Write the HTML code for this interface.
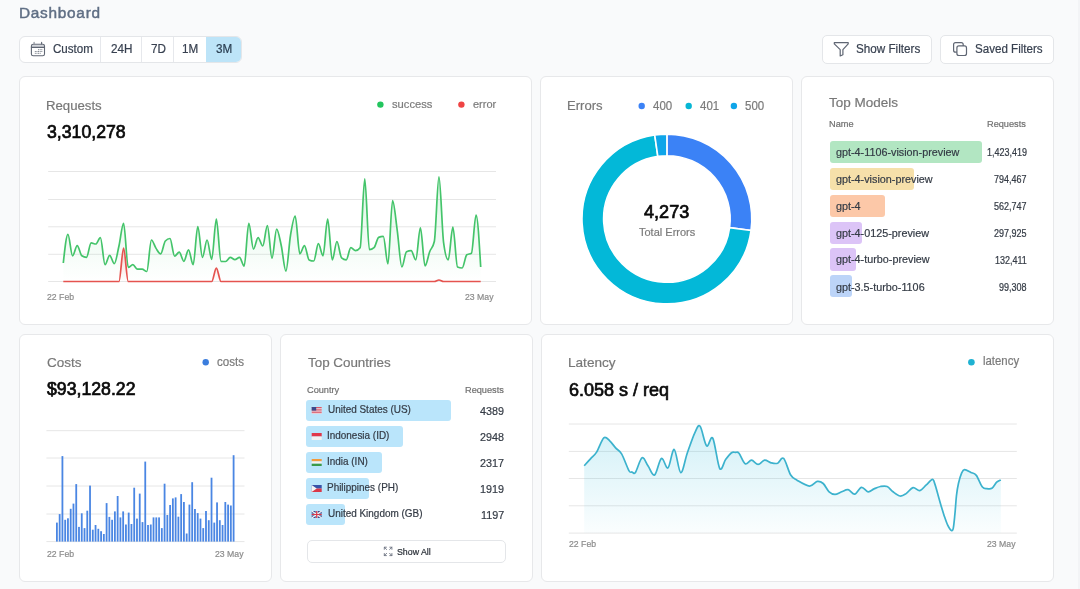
<!DOCTYPE html>
<html><head><meta charset="utf-8"><title>Dashboard</title>
<style>
html,body{margin:0;padding:0;}
body{width:1080px;height:589px;overflow:hidden;background:#f9fafb;position:relative;font-family:"Liberation Sans",sans-serif;}
.t{position:absolute;white-space:nowrap;will-change:transform;}
.card{position:absolute;background:#fff;border:1px solid #e7e8ea;border-radius:6px;box-sizing:border-box;}
.btn{position:absolute;background:#fff;border:1px solid #e4e6e9;border-radius:5px;box-sizing:border-box;}
svg{position:absolute;left:0;top:0;overflow:visible;}
</style></head><body>
<div style="position:absolute;left:1078px;top:0;width:2px;height:589px;background:#f3f4f6"></div>
<div class="btn" style="left:19.2px;top:35.5px;width:223px;height:27.3px;border-radius:6px;overflow:hidden"><div style="position:absolute;left:185.5px;top:0;width:40px;height:100%;background:#bde4f8"></div><div style="position:absolute;left:80.3px;top:0;width:1px;height:100%;background:#e6e8ec"></div><div style="position:absolute;left:120.7px;top:0;width:1px;height:100%;background:#e6e8ec"></div><div style="position:absolute;left:152.5px;top:0;width:1px;height:100%;background:#e6e8ec"></div></div>
<div class="btn" style="left:822.0px;top:34.9px;width:110px;height:28.7px"></div>
<div class="btn" style="left:940.3px;top:34.9px;width:113.6px;height:28.7px"></div>
<div class="card" style="left:18.84px;top:76.2px;width:512.76px;height:248.90000000000003px"></div>
<div class="card" style="left:540.1px;top:76.2px;width:252.89999999999998px;height:248.90000000000003px"></div>
<div class="card" style="left:801.1px;top:76.2px;width:252.69999999999993px;height:248.90000000000003px"></div>
<div class="card" style="left:18.84px;top:333.7px;width:253.11999999999998px;height:248.8px"></div>
<div class="card" style="left:279.9px;top:333.7px;width:252.80000000000007px;height:248.8px"></div>
<div class="card" style="left:540.9px;top:333.7px;width:512.9px;height:248.8px"></div>
<div style="position:absolute;left:830px;top:141.00px;width:151.70px;height:22.2px;background:#b2e6c2;border-radius:3px"></div>
<div style="position:absolute;left:830px;top:167.85px;width:83.75px;height:22.2px;background:#f6e0aa;border-radius:3px"></div>
<div style="position:absolute;left:830px;top:194.70px;width:54.50px;height:22.2px;background:#fcc8a8;border-radius:3px"></div>
<div style="position:absolute;left:830px;top:221.55px;width:32.10px;height:22.2px;background:#dcc4f7;border-radius:3px"></div>
<div style="position:absolute;left:830px;top:248.40px;width:25.70px;height:22.2px;background:#dcc4f7;border-radius:3px"></div>
<div style="position:absolute;left:830px;top:275.25px;width:22.40px;height:22.2px;background:#bcd4f8;border-radius:3px"></div>
<div style="position:absolute;left:305.8px;top:400.20px;width:145.00px;height:21.3px;background:#bae5fb;border-radius:3px"></div>
<div style="position:absolute;left:305.8px;top:426.20px;width:97.20px;height:21.3px;background:#bae5fb;border-radius:3px"></div>
<div style="position:absolute;left:305.8px;top:452.20px;width:76.40px;height:21.3px;background:#bae5fb;border-radius:3px"></div>
<div style="position:absolute;left:305.8px;top:478.20px;width:63.20px;height:21.3px;background:#bae5fb;border-radius:3px"></div>
<div style="position:absolute;left:305.8px;top:504.20px;width:39.30px;height:21.3px;background:#bae5fb;border-radius:3px"></div>
<div class="btn" style="left:306.6px;top:539.9px;width:199.1px;height:23.1px;border-radius:5px"></div>
<svg width="1080" height="589">
<rect x="31.4" y="45.0" width="13.1" height="2.2" fill="#d3d6db"/>
<g fill="none" stroke="#5f6673" stroke-width="1.1" stroke-linecap="round" stroke-linejoin="round">
<rect x="31.4" y="44.2" width="13.1" height="11.6" rx="1.8"/>
<line x1="31.4" y1="47.4" x2="44.5" y2="47.4"/>
<line x1="34.1" y1="42.4" x2="34.1" y2="44.0" stroke="#8a9099"/>
<line x1="41.6" y1="42.4" x2="41.6" y2="44.0"/>
</g><g fill="#7a808a"><rect x="38.06" y="49.20" width="1.0" height="1.0"/><rect x="39.68" y="49.20" width="1.0" height="1.0"/><rect x="41.30" y="49.20" width="1.0" height="1.0"/><rect x="34.82" y="51.00" width="1.0" height="1.0"/><rect x="36.44" y="51.00" width="1.0" height="1.0"/><rect x="38.06" y="51.00" width="1.0" height="1.0"/><rect x="39.68" y="51.00" width="1.0" height="1.0"/><rect x="41.30" y="51.00" width="1.0" height="1.0"/><rect x="34.82" y="52.80" width="1.0" height="1.0"/><rect x="36.44" y="52.80" width="1.0" height="1.0"/><rect x="38.06" y="52.80" width="1.0" height="1.0"/><rect x="39.68" y="52.80" width="1.0" height="1.0"/></g>
<path d="M834.3,42.6 L848.2,42.6 L848.2,43.9 L842.9,49.6 L842.9,54.8 L840.2,56 L840.2,49.6 L834.3,43.9 Z" fill="none" stroke="#5f6673" stroke-width="1.2" stroke-linejoin="round"/>
<rect x="953.6" y="42.6" width="9.6" height="9.6" rx="2" fill="none" stroke="#5f6673" stroke-width="1.2"/>
<rect x="956.9" y="45.9" width="9.6" height="9.6" rx="2" fill="#fff" stroke="#5f6673" stroke-width="1.2"/>
<defs><linearGradient id="gg" x1="0" y1="0" x2="0" y2="1"><stop offset="0" stop-color="#22c55e" stop-opacity="0.16"/><stop offset="1" stop-color="#22c55e" stop-opacity="0"/></linearGradient><linearGradient id="rg" x1="0" y1="0" x2="0" y2="1"><stop offset="0" stop-color="#ef4444" stop-opacity="0.22"/><stop offset="1" stop-color="#ef4444" stop-opacity="0"/></linearGradient><linearGradient id="lg" x1="0" y1="0" x2="0" y2="1"><stop offset="0" stop-color="#1cb5d8" stop-opacity="0.2"/><stop offset="1" stop-color="#1cb5d8" stop-opacity="0.02"/></linearGradient></defs>
<line x1="48.2" y1="171.5" x2="496" y2="171.5" stroke="#e6e6e6" stroke-width="1"/>
<line x1="48.2" y1="199.5" x2="496" y2="199.5" stroke="#e6e6e6" stroke-width="1"/>
<line x1="48.2" y1="226.8" x2="496" y2="226.8" stroke="#e6e6e6" stroke-width="1"/>
<line x1="48.2" y1="254.3" x2="496" y2="254.3" stroke="#e6e6e6" stroke-width="1"/>
<line x1="48.2" y1="281.5" x2="496" y2="281.5" stroke="#e6e6e6" stroke-width="1"/>
<path d="M63.30,263.00 C64.85,248.65 66.39,234.30 67.94,234.30 C69.48,234.30 71.03,255.80 72.58,255.80 C74.12,255.80 75.67,245.60 77.21,245.60 C78.76,245.60 80.31,254.80 81.85,255.80 C83.40,256.80 84.94,257.30 86.49,257.30 C88.03,257.30 89.58,242.90 91.13,242.90 C92.67,242.90 94.22,244.00 95.76,244.00 C97.31,244.00 98.86,237.60 100.40,237.60 C101.95,237.60 103.49,264.70 105.04,264.70 C106.59,264.70 108.13,255.30 109.68,255.30 C111.22,255.30 112.77,263.60 114.32,263.60 C115.86,263.60 117.41,252.72 118.95,246.00 C120.50,239.28 122.05,223.30 123.59,223.30 C125.14,223.30 126.68,267.40 128.23,267.40 C129.77,267.40 131.32,264.70 132.87,264.70 C134.41,264.70 135.96,269.10 137.50,269.10 C139.05,269.10 140.60,269.10 142.14,269.10 C143.69,269.10 145.23,271.50 146.78,271.50 C148.33,271.50 149.87,240.00 151.42,240.00 C152.96,240.00 154.51,246.08 156.06,248.40 C157.60,250.72 159.15,253.90 160.69,253.90 C162.24,253.90 163.79,242.67 165.33,241.00 C166.88,239.33 168.42,238.50 169.97,238.50 C171.51,238.50 173.06,256.10 174.61,256.10 C176.15,256.10 177.70,252.20 179.24,252.20 C180.79,252.20 182.34,261.30 183.88,261.30 C185.43,261.30 186.97,249.80 188.52,249.80 C190.07,249.80 191.61,264.70 193.16,264.70 C194.70,264.70 196.25,226.70 197.80,226.70 C199.34,226.70 200.89,257.30 202.43,257.30 C203.98,257.30 205.53,240.00 207.07,240.00 C208.62,240.00 210.16,259.30 211.71,259.30 C213.25,259.30 214.80,219.00 216.35,219.00 C217.89,219.00 219.44,261.17 220.98,261.30 C222.53,261.43 224.08,261.50 225.62,261.50 C227.17,261.50 228.71,257.30 230.26,257.30 C231.81,257.30 233.35,259.60 234.90,259.60 C236.44,259.60 237.99,257.30 239.54,257.30 C241.08,257.30 242.63,266.10 244.17,266.10 C245.72,266.10 247.27,223.30 248.81,223.30 C250.36,223.30 251.90,249.10 253.45,249.10 C254.99,249.10 256.54,237.60 258.09,237.60 C259.63,237.60 261.18,246.00 262.72,246.00 C264.27,246.00 265.82,225.60 267.36,225.60 C268.91,225.60 270.45,258.20 272.00,258.20 C273.55,258.20 275.09,229.20 276.64,229.20 C278.18,229.20 279.73,238.72 281.28,245.70 C282.82,252.68 284.37,271.10 285.91,271.10 C287.46,271.10 289.01,244.18 290.55,235.00 C292.10,225.82 293.64,216.00 295.19,216.00 C296.73,216.00 298.28,253.80 299.83,253.80 C301.37,253.80 302.92,245.60 304.46,245.60 C306.01,245.60 307.56,259.17 309.10,259.90 C310.65,260.63 312.19,261.00 313.74,261.00 C315.29,261.00 316.83,243.60 318.38,243.60 C319.92,243.60 321.47,255.80 323.02,255.80 C324.56,255.80 326.11,219.00 327.65,219.00 C329.20,219.00 330.75,259.90 332.29,259.90 C333.84,259.90 335.38,241.50 336.93,241.50 C338.47,241.50 340.02,256.57 341.57,257.90 C343.11,259.23 344.66,259.90 346.20,259.90 C347.75,259.90 349.30,247.70 350.84,247.70 C352.39,247.70 353.93,250.70 355.48,250.70 C357.03,250.70 358.57,249.70 360.12,247.70 C361.66,245.70 363.21,178.90 364.76,178.90 C366.30,178.90 367.85,249.70 369.39,249.70 C370.94,249.70 372.49,249.03 374.03,247.70 C375.58,246.37 377.12,238.07 378.67,237.40 C380.21,236.73 381.76,236.40 383.31,236.40 C384.85,236.40 386.40,264.00 387.94,264.00 C389.49,264.00 391.04,200.70 392.58,200.70 C394.13,200.70 395.67,219.25 397.22,230.30 C398.77,241.35 400.31,267.00 401.86,267.00 C403.40,267.00 404.95,252.37 406.50,251.70 C408.04,251.03 409.59,250.70 411.13,250.70 C412.68,250.70 414.23,259.90 415.77,259.90 C417.32,259.90 418.86,227.90 420.41,227.90 C421.95,227.90 423.50,266.00 425.05,266.00 C426.59,266.00 428.14,255.78 429.68,251.70 C431.23,247.62 432.78,248.30 434.32,241.50 C435.87,234.70 437.41,176.80 438.96,176.80 C440.51,176.80 442.05,231.07 443.60,242.60 C445.14,254.13 446.69,259.90 448.24,259.90 C449.78,259.90 451.33,227.20 452.87,227.20 C454.42,227.20 455.97,266.33 457.51,267.00 C459.06,267.67 460.60,268.00 462.15,268.00 C463.69,268.00 465.24,255.87 466.79,254.80 C468.33,253.73 469.88,254.27 471.42,253.20 C472.97,252.13 474.52,215.00 476.06,215.00 C477.61,215.00 479.15,241.00 480.70,267.00 L480.7,281.5 L63.3,281.5 Z" fill="url(#gg)"/>
<path d="M63.30,263.00 C64.85,248.65 66.39,234.30 67.94,234.30 C69.48,234.30 71.03,255.80 72.58,255.80 C74.12,255.80 75.67,245.60 77.21,245.60 C78.76,245.60 80.31,254.80 81.85,255.80 C83.40,256.80 84.94,257.30 86.49,257.30 C88.03,257.30 89.58,242.90 91.13,242.90 C92.67,242.90 94.22,244.00 95.76,244.00 C97.31,244.00 98.86,237.60 100.40,237.60 C101.95,237.60 103.49,264.70 105.04,264.70 C106.59,264.70 108.13,255.30 109.68,255.30 C111.22,255.30 112.77,263.60 114.32,263.60 C115.86,263.60 117.41,252.72 118.95,246.00 C120.50,239.28 122.05,223.30 123.59,223.30 C125.14,223.30 126.68,267.40 128.23,267.40 C129.77,267.40 131.32,264.70 132.87,264.70 C134.41,264.70 135.96,269.10 137.50,269.10 C139.05,269.10 140.60,269.10 142.14,269.10 C143.69,269.10 145.23,271.50 146.78,271.50 C148.33,271.50 149.87,240.00 151.42,240.00 C152.96,240.00 154.51,246.08 156.06,248.40 C157.60,250.72 159.15,253.90 160.69,253.90 C162.24,253.90 163.79,242.67 165.33,241.00 C166.88,239.33 168.42,238.50 169.97,238.50 C171.51,238.50 173.06,256.10 174.61,256.10 C176.15,256.10 177.70,252.20 179.24,252.20 C180.79,252.20 182.34,261.30 183.88,261.30 C185.43,261.30 186.97,249.80 188.52,249.80 C190.07,249.80 191.61,264.70 193.16,264.70 C194.70,264.70 196.25,226.70 197.80,226.70 C199.34,226.70 200.89,257.30 202.43,257.30 C203.98,257.30 205.53,240.00 207.07,240.00 C208.62,240.00 210.16,259.30 211.71,259.30 C213.25,259.30 214.80,219.00 216.35,219.00 C217.89,219.00 219.44,261.17 220.98,261.30 C222.53,261.43 224.08,261.50 225.62,261.50 C227.17,261.50 228.71,257.30 230.26,257.30 C231.81,257.30 233.35,259.60 234.90,259.60 C236.44,259.60 237.99,257.30 239.54,257.30 C241.08,257.30 242.63,266.10 244.17,266.10 C245.72,266.10 247.27,223.30 248.81,223.30 C250.36,223.30 251.90,249.10 253.45,249.10 C254.99,249.10 256.54,237.60 258.09,237.60 C259.63,237.60 261.18,246.00 262.72,246.00 C264.27,246.00 265.82,225.60 267.36,225.60 C268.91,225.60 270.45,258.20 272.00,258.20 C273.55,258.20 275.09,229.20 276.64,229.20 C278.18,229.20 279.73,238.72 281.28,245.70 C282.82,252.68 284.37,271.10 285.91,271.10 C287.46,271.10 289.01,244.18 290.55,235.00 C292.10,225.82 293.64,216.00 295.19,216.00 C296.73,216.00 298.28,253.80 299.83,253.80 C301.37,253.80 302.92,245.60 304.46,245.60 C306.01,245.60 307.56,259.17 309.10,259.90 C310.65,260.63 312.19,261.00 313.74,261.00 C315.29,261.00 316.83,243.60 318.38,243.60 C319.92,243.60 321.47,255.80 323.02,255.80 C324.56,255.80 326.11,219.00 327.65,219.00 C329.20,219.00 330.75,259.90 332.29,259.90 C333.84,259.90 335.38,241.50 336.93,241.50 C338.47,241.50 340.02,256.57 341.57,257.90 C343.11,259.23 344.66,259.90 346.20,259.90 C347.75,259.90 349.30,247.70 350.84,247.70 C352.39,247.70 353.93,250.70 355.48,250.70 C357.03,250.70 358.57,249.70 360.12,247.70 C361.66,245.70 363.21,178.90 364.76,178.90 C366.30,178.90 367.85,249.70 369.39,249.70 C370.94,249.70 372.49,249.03 374.03,247.70 C375.58,246.37 377.12,238.07 378.67,237.40 C380.21,236.73 381.76,236.40 383.31,236.40 C384.85,236.40 386.40,264.00 387.94,264.00 C389.49,264.00 391.04,200.70 392.58,200.70 C394.13,200.70 395.67,219.25 397.22,230.30 C398.77,241.35 400.31,267.00 401.86,267.00 C403.40,267.00 404.95,252.37 406.50,251.70 C408.04,251.03 409.59,250.70 411.13,250.70 C412.68,250.70 414.23,259.90 415.77,259.90 C417.32,259.90 418.86,227.90 420.41,227.90 C421.95,227.90 423.50,266.00 425.05,266.00 C426.59,266.00 428.14,255.78 429.68,251.70 C431.23,247.62 432.78,248.30 434.32,241.50 C435.87,234.70 437.41,176.80 438.96,176.80 C440.51,176.80 442.05,231.07 443.60,242.60 C445.14,254.13 446.69,259.90 448.24,259.90 C449.78,259.90 451.33,227.20 452.87,227.20 C454.42,227.20 455.97,266.33 457.51,267.00 C459.06,267.67 460.60,268.00 462.15,268.00 C463.69,268.00 465.24,255.87 466.79,254.80 C468.33,253.73 469.88,254.27 471.42,253.20 C472.97,252.13 474.52,215.00 476.06,215.00 C477.61,215.00 479.15,241.00 480.70,267.00" fill="none" stroke="#44c46a" stroke-width="1.7"/>
<path d="M63.30,281.50 C64.85,281.50 66.39,281.50 67.94,281.50 C69.48,281.50 71.03,281.50 72.58,281.50 C74.12,281.50 75.67,281.50 77.21,281.50 C78.76,281.50 80.31,281.50 81.85,281.50 C83.40,281.50 84.94,281.50 86.49,281.50 C88.03,281.50 89.58,281.50 91.13,281.50 C92.67,281.50 94.22,281.50 95.76,281.50 C97.31,281.50 98.86,281.50 100.40,281.50 C101.95,281.50 103.49,281.50 105.04,281.50 C106.59,281.50 108.13,281.50 109.68,281.50 C111.22,281.50 112.77,281.50 114.32,281.50 C115.86,281.50 117.41,281.50 118.95,281.50 C120.50,281.50 122.05,248.20 123.59,248.20 C125.14,248.20 126.68,281.50 128.23,281.50 C129.77,281.50 131.32,281.50 132.87,281.50 C134.41,281.50 135.96,281.50 137.50,281.50 C139.05,281.50 140.60,281.50 142.14,281.50 C143.69,281.50 145.23,281.50 146.78,281.50 C148.33,281.50 149.87,281.50 151.42,281.50 C152.96,281.50 154.51,281.50 156.06,281.50 C157.60,281.50 159.15,281.50 160.69,281.50 C162.24,281.50 163.79,281.50 165.33,281.50 C166.88,281.50 168.42,281.50 169.97,281.50 C171.51,281.50 173.06,281.50 174.61,281.50 C176.15,281.50 177.70,281.50 179.24,281.50 C180.79,281.50 182.34,281.50 183.88,281.50 C185.43,281.50 186.97,281.50 188.52,281.50 C190.07,281.50 191.61,281.50 193.16,281.50 C194.70,281.50 196.25,281.50 197.80,281.50 C199.34,281.50 200.89,281.50 202.43,281.50 C203.98,281.50 205.53,281.50 207.07,281.50 C208.62,281.50 210.16,281.50 211.71,281.50 C213.25,281.50 214.80,268.10 216.35,268.10 C217.89,268.10 219.44,281.50 220.98,281.50 C222.53,281.50 224.08,281.50 225.62,281.50 C227.17,281.50 228.71,281.50 230.26,281.50 C231.81,281.50 233.35,281.50 234.90,281.50 C236.44,281.50 237.99,281.50 239.54,281.50 C241.08,281.50 242.63,281.50 244.17,281.50 C245.72,281.50 247.27,281.50 248.81,281.50 C250.36,281.50 251.90,281.50 253.45,281.50 C254.99,281.50 256.54,281.50 258.09,281.50 C259.63,281.50 261.18,281.50 262.72,281.50 C264.27,281.50 265.82,281.50 267.36,281.50 C268.91,281.50 270.45,281.50 272.00,281.50 C273.55,281.50 275.09,281.50 276.64,281.50 C278.18,281.50 279.73,281.50 281.28,281.50 C282.82,281.50 284.37,281.50 285.91,281.50 C287.46,281.50 289.01,281.50 290.55,281.50 C292.10,281.50 293.64,281.50 295.19,281.50 C296.73,281.50 298.28,281.50 299.83,281.50 C301.37,281.50 302.92,281.50 304.46,281.50 C306.01,281.50 307.56,281.50 309.10,281.50 C310.65,281.50 312.19,281.50 313.74,281.50 C315.29,281.50 316.83,281.50 318.38,281.50 C319.92,281.50 321.47,281.50 323.02,281.50 C324.56,281.50 326.11,281.50 327.65,281.50 C329.20,281.50 330.75,281.50 332.29,281.50 C333.84,281.50 335.38,281.50 336.93,281.50 C338.47,281.50 340.02,281.50 341.57,281.50 C343.11,281.50 344.66,281.50 346.20,281.50 C347.75,281.50 349.30,281.50 350.84,281.50 C352.39,281.50 353.93,281.50 355.48,281.50 C357.03,281.50 358.57,281.50 360.12,281.50 C361.66,281.50 363.21,281.50 364.76,281.50 C366.30,281.50 367.85,281.50 369.39,281.50 C370.94,281.50 372.49,281.50 374.03,281.50 C375.58,281.50 377.12,281.50 378.67,281.50 C380.21,281.50 381.76,281.50 383.31,281.50 C384.85,281.50 386.40,281.50 387.94,281.50 C389.49,281.50 391.04,281.50 392.58,281.50 C394.13,281.50 395.67,281.50 397.22,281.50 C398.77,281.50 400.31,281.50 401.86,281.50 C403.40,281.50 404.95,281.50 406.50,281.50 C408.04,281.50 409.59,281.50 411.13,281.50 C412.68,281.50 414.23,281.50 415.77,281.50 C417.32,281.50 418.86,281.50 420.41,281.50 C421.95,281.50 423.50,281.50 425.05,281.50 C426.59,281.50 428.14,281.50 429.68,281.50 C431.23,281.50 432.78,281.50 434.32,281.50 C435.87,281.50 437.41,280.00 438.96,280.00 C440.51,280.00 442.05,281.50 443.60,281.50 C445.14,281.50 446.69,281.50 448.24,281.50 C449.78,281.50 451.33,281.50 452.87,281.50 C454.42,281.50 455.97,281.50 457.51,281.50 C459.06,281.50 460.60,281.50 462.15,281.50 C463.69,281.50 465.24,281.50 466.79,281.50 C468.33,281.50 469.88,281.50 471.42,281.50 C472.97,281.50 474.52,281.50 476.06,281.50 C477.61,281.50 479.15,281.50 480.70,281.50 L480.7,281.5 L63.3,281.5 Z" fill="url(#rg)"/>
<path d="M63.30,281.50 C64.85,281.50 66.39,281.50 67.94,281.50 C69.48,281.50 71.03,281.50 72.58,281.50 C74.12,281.50 75.67,281.50 77.21,281.50 C78.76,281.50 80.31,281.50 81.85,281.50 C83.40,281.50 84.94,281.50 86.49,281.50 C88.03,281.50 89.58,281.50 91.13,281.50 C92.67,281.50 94.22,281.50 95.76,281.50 C97.31,281.50 98.86,281.50 100.40,281.50 C101.95,281.50 103.49,281.50 105.04,281.50 C106.59,281.50 108.13,281.50 109.68,281.50 C111.22,281.50 112.77,281.50 114.32,281.50 C115.86,281.50 117.41,281.50 118.95,281.50 C120.50,281.50 122.05,248.20 123.59,248.20 C125.14,248.20 126.68,281.50 128.23,281.50 C129.77,281.50 131.32,281.50 132.87,281.50 C134.41,281.50 135.96,281.50 137.50,281.50 C139.05,281.50 140.60,281.50 142.14,281.50 C143.69,281.50 145.23,281.50 146.78,281.50 C148.33,281.50 149.87,281.50 151.42,281.50 C152.96,281.50 154.51,281.50 156.06,281.50 C157.60,281.50 159.15,281.50 160.69,281.50 C162.24,281.50 163.79,281.50 165.33,281.50 C166.88,281.50 168.42,281.50 169.97,281.50 C171.51,281.50 173.06,281.50 174.61,281.50 C176.15,281.50 177.70,281.50 179.24,281.50 C180.79,281.50 182.34,281.50 183.88,281.50 C185.43,281.50 186.97,281.50 188.52,281.50 C190.07,281.50 191.61,281.50 193.16,281.50 C194.70,281.50 196.25,281.50 197.80,281.50 C199.34,281.50 200.89,281.50 202.43,281.50 C203.98,281.50 205.53,281.50 207.07,281.50 C208.62,281.50 210.16,281.50 211.71,281.50 C213.25,281.50 214.80,268.10 216.35,268.10 C217.89,268.10 219.44,281.50 220.98,281.50 C222.53,281.50 224.08,281.50 225.62,281.50 C227.17,281.50 228.71,281.50 230.26,281.50 C231.81,281.50 233.35,281.50 234.90,281.50 C236.44,281.50 237.99,281.50 239.54,281.50 C241.08,281.50 242.63,281.50 244.17,281.50 C245.72,281.50 247.27,281.50 248.81,281.50 C250.36,281.50 251.90,281.50 253.45,281.50 C254.99,281.50 256.54,281.50 258.09,281.50 C259.63,281.50 261.18,281.50 262.72,281.50 C264.27,281.50 265.82,281.50 267.36,281.50 C268.91,281.50 270.45,281.50 272.00,281.50 C273.55,281.50 275.09,281.50 276.64,281.50 C278.18,281.50 279.73,281.50 281.28,281.50 C282.82,281.50 284.37,281.50 285.91,281.50 C287.46,281.50 289.01,281.50 290.55,281.50 C292.10,281.50 293.64,281.50 295.19,281.50 C296.73,281.50 298.28,281.50 299.83,281.50 C301.37,281.50 302.92,281.50 304.46,281.50 C306.01,281.50 307.56,281.50 309.10,281.50 C310.65,281.50 312.19,281.50 313.74,281.50 C315.29,281.50 316.83,281.50 318.38,281.50 C319.92,281.50 321.47,281.50 323.02,281.50 C324.56,281.50 326.11,281.50 327.65,281.50 C329.20,281.50 330.75,281.50 332.29,281.50 C333.84,281.50 335.38,281.50 336.93,281.50 C338.47,281.50 340.02,281.50 341.57,281.50 C343.11,281.50 344.66,281.50 346.20,281.50 C347.75,281.50 349.30,281.50 350.84,281.50 C352.39,281.50 353.93,281.50 355.48,281.50 C357.03,281.50 358.57,281.50 360.12,281.50 C361.66,281.50 363.21,281.50 364.76,281.50 C366.30,281.50 367.85,281.50 369.39,281.50 C370.94,281.50 372.49,281.50 374.03,281.50 C375.58,281.50 377.12,281.50 378.67,281.50 C380.21,281.50 381.76,281.50 383.31,281.50 C384.85,281.50 386.40,281.50 387.94,281.50 C389.49,281.50 391.04,281.50 392.58,281.50 C394.13,281.50 395.67,281.50 397.22,281.50 C398.77,281.50 400.31,281.50 401.86,281.50 C403.40,281.50 404.95,281.50 406.50,281.50 C408.04,281.50 409.59,281.50 411.13,281.50 C412.68,281.50 414.23,281.50 415.77,281.50 C417.32,281.50 418.86,281.50 420.41,281.50 C421.95,281.50 423.50,281.50 425.05,281.50 C426.59,281.50 428.14,281.50 429.68,281.50 C431.23,281.50 432.78,281.50 434.32,281.50 C435.87,281.50 437.41,280.00 438.96,280.00 C440.51,280.00 442.05,281.50 443.60,281.50 C445.14,281.50 446.69,281.50 448.24,281.50 C449.78,281.50 451.33,281.50 452.87,281.50 C454.42,281.50 455.97,281.50 457.51,281.50 C459.06,281.50 460.60,281.50 462.15,281.50 C463.69,281.50 465.24,281.50 466.79,281.50 C468.33,281.50 469.88,281.50 471.42,281.50 C472.97,281.50 474.52,281.50 476.06,281.50 C477.61,281.50 479.15,281.50 480.70,281.50" fill="none" stroke="#e5534f" stroke-width="1.7"/>
<circle cx="380.4" cy="104.6" r="3.2" fill="#22c55e"/>
<circle cx="461.4" cy="104.6" r="3.2" fill="#ef4444"/>
<g stroke="#fff" stroke-width="1.6" stroke-linejoin="miter"><path d="M666.90,134.10 A84.9,84.9 0 0 1 751.01,230.52 L729.61,227.59 A63.3,63.3 0 0 0 666.90,155.70 Z" fill="#3b82f6"/>
<path d="M751.01,230.52 A84.9,84.9 0 1 1 654.72,134.98 L657.82,156.36 A63.3,63.3 0 1 0 729.61,227.59 Z" fill="#03b8d8"/>
<path d="M654.72,134.98 A84.9,84.9 0 0 1 666.90,134.10 L666.90,155.70 A63.3,63.3 0 0 0 657.82,156.36 Z" fill="#0ea5e9"/></g>
<circle cx="641.7" cy="106" r="3.2" fill="#3b82f6"/>
<circle cx="688.7" cy="106" r="3.2" fill="#06b6d4"/>
<circle cx="733.9" cy="106" r="3.2" fill="#0ea5e9"/>
<circle cx="205.7" cy="362.3" r="3.2" fill="#3b7ddd"/>
<line x1="46.4" y1="430.7" x2="244.5" y2="430.7" stroke="#e6e6e6" stroke-width="1"/>
<line x1="46.4" y1="458.0" x2="244.5" y2="458.0" stroke="#e6e6e6" stroke-width="1"/>
<line x1="46.4" y1="486.0" x2="244.5" y2="486.0" stroke="#e6e6e6" stroke-width="1"/>
<line x1="46.4" y1="514.0" x2="244.5" y2="514.0" stroke="#e6e6e6" stroke-width="1"/>
<line x1="46.4" y1="541.6" x2="244.5" y2="541.6" stroke="#e6e6e6" stroke-width="1"/>
<g fill="#4a86e3"><rect x="56.00" y="522.60" width="1.8" height="19.00"/><rect x="58.76" y="514.10" width="1.8" height="27.50"/><rect x="61.52" y="456.10" width="1.8" height="85.50"/><rect x="64.28" y="519.80" width="1.8" height="21.80"/><rect x="67.04" y="518.30" width="1.8" height="23.30"/><rect x="69.80" y="508.80" width="1.8" height="32.80"/><rect x="72.57" y="503.60" width="1.8" height="38.00"/><rect x="75.33" y="484.10" width="1.8" height="57.50"/><rect x="78.09" y="526.90" width="1.8" height="14.70"/><rect x="80.85" y="513.30" width="1.8" height="28.30"/><rect x="83.61" y="528.10" width="1.8" height="13.50"/><rect x="86.37" y="510.70" width="1.8" height="30.90"/><rect x="89.13" y="485.60" width="1.8" height="56.00"/><rect x="91.89" y="529.70" width="1.8" height="11.90"/><rect x="94.65" y="525.00" width="1.8" height="16.60"/><rect x="97.41" y="528.80" width="1.8" height="12.80"/><rect x="100.18" y="531.20" width="1.8" height="10.40"/><rect x="102.94" y="534.00" width="1.8" height="7.60"/><rect x="105.70" y="503.10" width="1.8" height="38.50"/><rect x="108.46" y="516.90" width="1.8" height="24.70"/><rect x="111.22" y="519.80" width="1.8" height="21.80"/><rect x="113.98" y="511.40" width="1.8" height="30.20"/><rect x="116.74" y="496.00" width="1.8" height="45.60"/><rect x="119.50" y="517.40" width="1.8" height="24.20"/><rect x="122.26" y="511.40" width="1.8" height="30.20"/><rect x="125.03" y="524.50" width="1.8" height="17.10"/><rect x="127.79" y="512.60" width="1.8" height="29.00"/><rect x="130.55" y="524.00" width="1.8" height="17.60"/><rect x="133.31" y="487.70" width="1.8" height="53.90"/><rect x="136.07" y="518.60" width="1.8" height="23.00"/><rect x="138.83" y="493.60" width="1.8" height="48.00"/><rect x="141.59" y="522.10" width="1.8" height="19.50"/><rect x="144.35" y="461.60" width="1.8" height="80.00"/><rect x="147.11" y="525.00" width="1.8" height="16.60"/><rect x="149.87" y="524.50" width="1.8" height="17.10"/><rect x="152.63" y="517.40" width="1.8" height="24.20"/><rect x="155.40" y="517.40" width="1.8" height="24.20"/><rect x="158.16" y="517.40" width="1.8" height="24.20"/><rect x="160.92" y="528.10" width="1.8" height="13.50"/><rect x="163.68" y="483.70" width="1.8" height="57.90"/><rect x="166.44" y="515.00" width="1.8" height="26.60"/><rect x="169.20" y="505.00" width="1.8" height="36.60"/><rect x="171.96" y="498.40" width="1.8" height="43.20"/><rect x="174.72" y="497.40" width="1.8" height="44.20"/><rect x="177.48" y="516.70" width="1.8" height="24.90"/><rect x="180.25" y="494.10" width="1.8" height="47.50"/><rect x="183.01" y="502.00" width="1.8" height="39.60"/><rect x="185.77" y="533.50" width="1.8" height="8.10"/><rect x="188.53" y="504.60" width="1.8" height="37.00"/><rect x="191.29" y="482.20" width="1.8" height="59.40"/><rect x="194.05" y="509.00" width="1.8" height="32.60"/><rect x="196.81" y="513.10" width="1.8" height="28.50"/><rect x="199.57" y="518.60" width="1.8" height="23.00"/><rect x="202.33" y="528.10" width="1.8" height="13.50"/><rect x="205.09" y="511.00" width="1.8" height="30.60"/><rect x="207.86" y="520.20" width="1.8" height="21.40"/><rect x="210.62" y="477.70" width="1.8" height="63.90"/><rect x="213.38" y="522.60" width="1.8" height="19.00"/><rect x="216.14" y="502.40" width="1.8" height="39.20"/><rect x="218.90" y="520.20" width="1.8" height="21.40"/><rect x="221.66" y="525.00" width="1.8" height="16.60"/><rect x="224.42" y="502.00" width="1.8" height="39.60"/><rect x="227.18" y="504.60" width="1.8" height="37.00"/><rect x="229.94" y="505.50" width="1.8" height="36.10"/><rect x="232.70" y="455.20" width="1.8" height="86.40"/></g>
<rect x="311.7" y="407.0" width="10" height="7" fill="#e8e8ee"/><rect x="311.7" y="407.00" width="10" height="0.9" fill="#d9485a"/><rect x="311.7" y="408.75" width="10" height="0.9" fill="#d9485a"/><rect x="311.7" y="410.50" width="10" height="0.9" fill="#d9485a"/><rect x="311.7" y="412.25" width="10" height="0.9" fill="#d9485a"/><rect x="311.7" y="407.0" width="4.5" height="3.6" fill="#3b4a8c"/><rect x="311.7" y="433.0" width="10" height="3.5" fill="#e0384a"/><rect x="311.7" y="436.5" width="10" height="3.5" fill="#f2f2f2"/><rect x="311.7" y="459.0" width="10" height="2.4" fill="#f29a3c"/><rect x="311.7" y="461.4" width="10" height="2.3" fill="#f4f4f4"/><rect x="311.7" y="463.7" width="10" height="2.3" fill="#3a9a4a"/><rect x="311.7" y="485.0" width="10" height="3.5" fill="#3852a8"/><rect x="311.7" y="488.5" width="10" height="3.5" fill="#d9384a"/><path d="M311.7,485.0 L316.7,488.5 L311.7,492.0 Z" fill="#f4f4f4"/><rect x="311.7" y="511.0" width="10" height="7" fill="#3b4a8c"/><path d="M311.7,511.0 L321.7,518.0 M321.7,511.0 L311.7,518.0" stroke="#f4f4f4" stroke-width="1.4"/><rect x="315.7" y="511.0" width="2" height="7" fill="#f4f4f4"/><rect x="311.7" y="513.7" width="10" height="1.6" fill="#f4f4f4"/><rect x="316.09999999999997" y="511.0" width="1.2" height="7" fill="#d9384a"/><rect x="311.7" y="514.0" width="10" height="1" fill="#d9384a"/>
<g fill="none" stroke="#6b7280" stroke-width="0.9" stroke-linecap="round" stroke-linejoin="round">
<path d="M384.3,549.3 L384.3,547.2 L386.4,547.2 M384.3,547.2 L386.6,549.5"/>
<path d="M391.9,549.3 L391.9,547.2 L389.8,547.2 M391.9,547.2 L389.6,549.5"/>
<path d="M384.3,553.5 L384.3,555.6 L386.4,555.6 M384.3,555.6 L386.6,553.3"/>
<path d="M391.9,553.5 L391.9,555.6 L389.8,555.6 M391.9,555.6 L389.6,553.3"/>
</g>
<circle cx="971.4" cy="362.25" r="3.3" fill="#1fb2d2"/>
<line x1="568.8" y1="424.0" x2="1016.8" y2="424.0" stroke="#e6e6e6" stroke-width="1"/>
<line x1="568.8" y1="451.4" x2="1016.8" y2="451.4" stroke="#e6e6e6" stroke-width="1"/>
<line x1="568.8" y1="478.5" x2="1016.8" y2="478.5" stroke="#e6e6e6" stroke-width="1"/>
<line x1="568.8" y1="505.8" x2="1016.8" y2="505.8" stroke="#e6e6e6" stroke-width="1"/>
<line x1="568.8" y1="533.1" x2="1016.8" y2="533.1" stroke="#e6e6e6" stroke-width="1"/>
<path d="M584.20,465.70 C585.28,464.52 588.63,460.87 590.70,458.60 C592.77,456.33 594.42,455.57 596.60,452.10 C598.78,448.63 601.62,439.68 603.80,437.80 C605.98,435.92 607.73,439.12 609.70,440.80 C611.67,442.48 613.62,445.72 615.60,447.90 C617.58,450.08 619.38,450.12 621.60,453.90 C623.82,457.68 627.17,467.58 628.90,470.60 C630.63,473.62 630.92,471.70 632.00,472.00 C633.08,472.30 633.72,474.77 635.40,472.40 C637.08,470.03 639.98,458.85 642.10,457.80 C644.22,456.75 646.02,463.23 648.10,466.10 C650.18,468.97 652.38,476.28 654.60,475.00 C656.82,473.72 659.17,459.58 661.40,458.40 C663.63,457.22 665.87,469.38 668.00,467.90 C670.13,466.42 672.08,448.72 674.20,449.50 C676.32,450.28 678.52,472.02 680.70,472.60 C682.88,473.18 684.95,459.63 687.30,453.00 C689.65,446.37 692.67,437.25 694.80,432.80 C696.93,428.35 698.13,424.12 700.10,426.30 C702.07,428.48 704.48,443.92 706.60,445.90 C708.72,447.88 710.62,434.43 712.80,438.20 C714.98,441.97 717.57,464.93 719.70,468.50 C721.83,472.07 723.63,462.22 725.60,459.60 C727.57,456.98 729.88,454.00 731.50,452.80 C733.12,451.60 734.05,452.33 735.30,452.40 C736.55,452.47 737.35,451.32 739.00,453.20 C740.65,455.08 743.12,462.53 745.20,463.70 C747.28,464.87 749.35,460.08 751.50,460.20 C753.65,460.32 755.92,464.40 758.10,464.40 C760.28,464.40 762.43,460.47 764.60,460.20 C766.77,459.93 768.92,462.30 771.10,462.80 C773.28,463.30 775.62,463.93 777.70,463.20 C779.78,462.47 781.43,456.43 783.60,458.40 C785.77,460.37 788.42,471.33 790.70,475.00 C792.98,478.67 794.17,478.55 797.30,480.40 C800.43,482.25 806.18,485.93 809.50,486.10 C812.82,486.27 814.92,481.83 817.20,481.40 C819.48,480.97 821.22,481.77 823.20,483.50 C825.18,485.23 827.13,489.98 829.10,491.80 C831.07,493.62 832.92,494.40 835.00,494.40 C837.08,494.40 839.42,492.58 841.60,491.80 C843.78,491.02 845.92,489.30 848.10,489.70 C850.28,490.10 852.47,494.60 854.70,494.20 C856.93,493.80 859.27,487.70 861.50,487.30 C863.73,486.90 866.02,491.53 868.10,491.80 C870.18,492.07 871.93,489.78 874.00,488.90 C876.07,488.02 878.32,486.90 880.50,486.50 C882.68,486.10 885.02,485.62 887.10,486.50 C889.18,487.38 890.83,490.22 893.00,491.80 C895.17,493.38 897.92,495.70 900.10,496.00 C902.28,496.30 903.95,495.00 906.10,493.60 C908.25,492.20 910.72,488.10 913.00,487.60 C915.28,487.10 917.58,491.05 919.80,490.60 C922.02,490.15 924.20,486.77 926.30,484.90 C928.40,483.03 930.95,479.48 932.40,479.40 C933.85,479.32 934.02,481.63 935.00,484.40 C935.98,487.17 937.30,492.50 938.30,496.00 C939.30,499.50 939.98,502.00 941.00,505.40 C942.02,508.80 943.28,513.10 944.40,516.40 C945.52,519.70 946.60,522.90 947.70,525.20 C948.80,527.50 950.08,529.63 951.00,530.20 C951.92,530.77 952.55,531.27 953.20,528.60 C953.85,525.93 954.35,519.73 954.90,514.20 C955.45,508.67 955.90,500.55 956.50,495.40 C957.10,490.25 957.67,486.98 958.50,483.30 C959.33,479.62 960.50,475.58 961.50,473.30 C962.50,471.02 962.93,469.75 964.50,469.60 C966.07,469.45 968.93,471.43 970.90,472.40 C972.87,473.37 974.38,472.97 976.30,475.40 C978.22,477.83 980.58,484.78 982.40,487.00 C984.22,489.22 985.62,488.48 987.20,488.70 C988.78,488.92 990.32,489.38 991.90,488.30 C993.48,487.22 995.22,483.60 996.70,482.20 C998.18,480.80 1000.12,480.28 1000.80,479.90 L1000.8,533.1 L584.2,533.1 Z" fill="url(#lg)"/>
<path d="M584.20,465.70 C585.28,464.52 588.63,460.87 590.70,458.60 C592.77,456.33 594.42,455.57 596.60,452.10 C598.78,448.63 601.62,439.68 603.80,437.80 C605.98,435.92 607.73,439.12 609.70,440.80 C611.67,442.48 613.62,445.72 615.60,447.90 C617.58,450.08 619.38,450.12 621.60,453.90 C623.82,457.68 627.17,467.58 628.90,470.60 C630.63,473.62 630.92,471.70 632.00,472.00 C633.08,472.30 633.72,474.77 635.40,472.40 C637.08,470.03 639.98,458.85 642.10,457.80 C644.22,456.75 646.02,463.23 648.10,466.10 C650.18,468.97 652.38,476.28 654.60,475.00 C656.82,473.72 659.17,459.58 661.40,458.40 C663.63,457.22 665.87,469.38 668.00,467.90 C670.13,466.42 672.08,448.72 674.20,449.50 C676.32,450.28 678.52,472.02 680.70,472.60 C682.88,473.18 684.95,459.63 687.30,453.00 C689.65,446.37 692.67,437.25 694.80,432.80 C696.93,428.35 698.13,424.12 700.10,426.30 C702.07,428.48 704.48,443.92 706.60,445.90 C708.72,447.88 710.62,434.43 712.80,438.20 C714.98,441.97 717.57,464.93 719.70,468.50 C721.83,472.07 723.63,462.22 725.60,459.60 C727.57,456.98 729.88,454.00 731.50,452.80 C733.12,451.60 734.05,452.33 735.30,452.40 C736.55,452.47 737.35,451.32 739.00,453.20 C740.65,455.08 743.12,462.53 745.20,463.70 C747.28,464.87 749.35,460.08 751.50,460.20 C753.65,460.32 755.92,464.40 758.10,464.40 C760.28,464.40 762.43,460.47 764.60,460.20 C766.77,459.93 768.92,462.30 771.10,462.80 C773.28,463.30 775.62,463.93 777.70,463.20 C779.78,462.47 781.43,456.43 783.60,458.40 C785.77,460.37 788.42,471.33 790.70,475.00 C792.98,478.67 794.17,478.55 797.30,480.40 C800.43,482.25 806.18,485.93 809.50,486.10 C812.82,486.27 814.92,481.83 817.20,481.40 C819.48,480.97 821.22,481.77 823.20,483.50 C825.18,485.23 827.13,489.98 829.10,491.80 C831.07,493.62 832.92,494.40 835.00,494.40 C837.08,494.40 839.42,492.58 841.60,491.80 C843.78,491.02 845.92,489.30 848.10,489.70 C850.28,490.10 852.47,494.60 854.70,494.20 C856.93,493.80 859.27,487.70 861.50,487.30 C863.73,486.90 866.02,491.53 868.10,491.80 C870.18,492.07 871.93,489.78 874.00,488.90 C876.07,488.02 878.32,486.90 880.50,486.50 C882.68,486.10 885.02,485.62 887.10,486.50 C889.18,487.38 890.83,490.22 893.00,491.80 C895.17,493.38 897.92,495.70 900.10,496.00 C902.28,496.30 903.95,495.00 906.10,493.60 C908.25,492.20 910.72,488.10 913.00,487.60 C915.28,487.10 917.58,491.05 919.80,490.60 C922.02,490.15 924.20,486.77 926.30,484.90 C928.40,483.03 930.95,479.48 932.40,479.40 C933.85,479.32 934.02,481.63 935.00,484.40 C935.98,487.17 937.30,492.50 938.30,496.00 C939.30,499.50 939.98,502.00 941.00,505.40 C942.02,508.80 943.28,513.10 944.40,516.40 C945.52,519.70 946.60,522.90 947.70,525.20 C948.80,527.50 950.08,529.63 951.00,530.20 C951.92,530.77 952.55,531.27 953.20,528.60 C953.85,525.93 954.35,519.73 954.90,514.20 C955.45,508.67 955.90,500.55 956.50,495.40 C957.10,490.25 957.67,486.98 958.50,483.30 C959.33,479.62 960.50,475.58 961.50,473.30 C962.50,471.02 962.93,469.75 964.50,469.60 C966.07,469.45 968.93,471.43 970.90,472.40 C972.87,473.37 974.38,472.97 976.30,475.40 C978.22,477.83 980.58,484.78 982.40,487.00 C984.22,489.22 985.62,488.48 987.20,488.70 C988.78,488.92 990.32,489.38 991.90,488.30 C993.48,487.22 995.22,483.60 996.70,482.20 C998.18,480.80 1000.12,480.28 1000.80,479.90" fill="none" stroke="#3cb2cd" stroke-width="1.7"/>
</svg>
<div class="t" id="dash" style="left:19.15px;top:5.22px;font-size:15.40px;line-height:15.40px;color:#5f6e84;font-weight:400;-webkit-text-stroke:0.45px #5f6e84;letter-spacing:0.72px;">Dashboard</div>
<div class="t" id="custom" style="left:52.72px;top:43.38px;font-size:11.60px;line-height:11.60px;color:#384150;font-weight:400;transform-origin:0 9.92px;transform:scaleY(1.05);-webkit-text-stroke:0.2px #384150;">Custom</div>
<div class="t" id="h24" style="left:110.90px;top:43.30px;font-size:11.70px;line-height:11.70px;color:#384150;font-weight:400;transform-origin:0 10.00px;transform:scaleY(1.05);-webkit-text-stroke:0.2px #384150;">24H</div>
<div class="t" id="d7" style="left:151.41px;top:43.30px;font-size:11.70px;line-height:11.70px;color:#384150;font-weight:400;transform-origin:0 10.00px;transform:scaleY(1.05);-webkit-text-stroke:0.2px #384150;">7D</div>
<div class="t" id="m1" style="left:181.90px;top:43.30px;font-size:11.70px;line-height:11.70px;color:#384150;font-weight:400;transform-origin:0 10.00px;transform:scaleY(1.05);-webkit-text-stroke:0.2px #384150;">1M</div>
<div class="t" id="m3" style="left:216.19px;top:43.30px;font-size:11.70px;line-height:11.70px;color:#2b3f52;font-weight:400;transform-origin:0 10.00px;transform:scaleY(1.05);-webkit-text-stroke:0.2px #2b3f52;">3M</div>
<div class="t" id="showf" style="left:855.67px;top:42.74px;font-size:11.70px;line-height:11.70px;color:#384150;font-weight:400;transform-origin:0 10.00px;transform:scaleY(1.04);-webkit-text-stroke:0.2px #384150;">Show Filters</div>
<div class="t" id="savedf" style="left:975.16px;top:42.82px;font-size:11.60px;line-height:11.60px;color:#384150;font-weight:400;transform-origin:0 9.92px;transform:scaleY(1.04);-webkit-text-stroke:0.2px #384150;">Saved Filters</div>
<div class="t" id="req" style="left:46.08px;top:98.93px;font-size:13.20px;line-height:13.20px;color:#787878;font-weight:400;-webkit-text-stroke:0.2px #787878;">Requests</div>
<div class="t" id="reqv" style="left:47.04px;top:123.74px;font-size:17.70px;line-height:17.70px;color:#0a0a0a;font-weight:400;-webkit-text-stroke:0.7px #0a0a0a;">3,310,278</div>
<div class="t" id="succ" style="left:391.92px;top:98.94px;font-size:11.20px;line-height:11.20px;color:#7b7b7b;font-weight:400;transform-origin:0 9.58px;transform:scaleY(1.05);-webkit-text-stroke:0.2px #7b7b7b;">success</div>
<div class="t" id="err" style="left:472.93px;top:99.11px;font-size:11.00px;line-height:11.00px;color:#7b7b7b;font-weight:400;transform-origin:0 9.40px;transform:scaleY(1.05);-webkit-text-stroke:0.2px #7b7b7b;">error</div>
<div class="t" id="feb1" style="left:47.04px;top:293.30px;font-size:8.70px;line-height:8.70px;color:#8c8c8c;font-weight:400;transform-origin:0 7.44px;transform:scaleY(1.05);-webkit-text-stroke:0.2px #8c8c8c;">22 Feb</div>
<div class="t" id="may1" style="right:586.48px;top:293.30px;font-size:8.70px;line-height:8.70px;color:#8c8c8c;font-weight:400;transform-origin:0 7.44px;transform:scaleY(1.05);-webkit-text-stroke:0.2px #8c8c8c;">23 May</div>
<div class="t" id="errs" style="left:566.87px;top:98.88px;font-size:13.10px;line-height:13.10px;color:#787878;font-weight:400;-webkit-text-stroke:0.2px #787878;">Errors</div>
<div class="t" id="c400" style="left:653.42px;top:100.65px;font-size:11.50px;line-height:11.50px;color:#7b7b7b;font-weight:400;transform-origin:0 9.83px;transform:scaleY(1.05);-webkit-text-stroke:0.2px #7b7b7b;">400</div>
<div class="t" id="c401" style="left:700.46px;top:100.65px;font-size:11.50px;line-height:11.50px;color:#7b7b7b;font-weight:400;transform-origin:0 9.83px;transform:scaleY(1.05);-webkit-text-stroke:0.2px #7b7b7b;">401</div>
<div class="t" id="c500" style="left:744.95px;top:100.65px;font-size:11.50px;line-height:11.50px;color:#7b7b7b;font-weight:400;transform-origin:0 9.83px;transform:scaleY(1.05);-webkit-text-stroke:0.2px #7b7b7b;">500</div>
<div class="t" id="errv" style="left:644.32px;top:202.93px;font-size:18.10px;line-height:18.10px;color:#0a0a0a;font-weight:400;-webkit-text-stroke:0.7px #0a0a0a;">4,273</div>
<div class="t" id="tot" style="left:639.49px;top:227.29px;font-size:11.00px;line-height:11.00px;color:#7b7b7b;font-weight:400;transform-origin:0 9.40px;transform:scaleY(1.05);-webkit-text-stroke:0.2px #7b7b7b;">Total Errors</div>
<div class="t" id="topm" style="left:828.85px;top:95.68px;font-size:13.50px;line-height:13.50px;color:#787878;font-weight:400;-webkit-text-stroke:0.2px #787878;">Top Models</div>
<div class="t" id="mname" style="left:828.89px;top:120.43px;font-size:9.20px;line-height:9.20px;color:#707070;font-weight:400;transform-origin:0 7.87px;transform:scaleY(1.05);-webkit-text-stroke:0.2px #707070;">Name</div>
<div class="t" id="mreq" style="right:54.52px;top:120.43px;font-size:9.20px;line-height:9.20px;color:#707070;font-weight:400;transform-origin:0 7.87px;transform:scaleY(1.05);-webkit-text-stroke:0.2px #707070;">Requests</div>
<div class="t" id="mn0" style="left:835.94px;top:147.03px;font-size:10.80px;line-height:10.80px;color:#343b45;font-weight:400;transform-origin:0 9.23px;transform:scaleY(1.06);-webkit-text-stroke:0.2px #343b45;">gpt-4-1106-vision-preview</div>
<div class="t" id="mv0" style="right:53.44px;top:149.09px;font-size:9.00px;line-height:9.00px;color:#343b45;font-weight:400;transform-origin:0 7.70px;transform:scaleY(1.12);-webkit-text-stroke:0.2px #343b45;">1,423,419</div>
<div class="t" id="mn1" style="left:835.94px;top:173.64px;font-size:10.80px;line-height:10.80px;color:#343b45;font-weight:400;transform-origin:0 9.23px;transform:scaleY(1.06);-webkit-text-stroke:0.2px #343b45;">gpt-4-vision-preview</div>
<div class="t" id="mv1" style="right:53.04px;top:176.09px;font-size:9.00px;line-height:9.00px;color:#343b45;font-weight:400;transform-origin:0 7.70px;transform:scaleY(1.12);-webkit-text-stroke:0.2px #343b45;">794,467</div>
<div class="t" id="mn2" style="left:835.94px;top:200.85px;font-size:10.80px;line-height:10.80px;color:#343b45;font-weight:400;transform-origin:0 9.23px;transform:scaleY(1.06);-webkit-text-stroke:0.2px #343b45;">gpt-4</div>
<div class="t" id="mv2" style="right:53.04px;top:203.31px;font-size:9.00px;line-height:9.00px;color:#343b45;font-weight:400;transform-origin:0 7.70px;transform:scaleY(1.12);-webkit-text-stroke:0.2px #343b45;">562,747</div>
<div class="t" id="mn3" style="left:835.94px;top:227.86px;font-size:10.80px;line-height:10.80px;color:#343b45;font-weight:400;transform-origin:0 9.23px;transform:scaleY(1.06);-webkit-text-stroke:0.2px #343b45;">gpt-4-0125-preview</div>
<div class="t" id="mv3" style="right:53.04px;top:229.92px;font-size:9.00px;line-height:9.00px;color:#343b45;font-weight:400;transform-origin:0 7.70px;transform:scaleY(1.12);-webkit-text-stroke:0.2px #343b45;">297,925</div>
<div class="t" id="mn4" style="left:835.94px;top:254.47px;font-size:10.80px;line-height:10.80px;color:#343b45;font-weight:400;transform-origin:0 9.23px;transform:scaleY(1.06);-webkit-text-stroke:0.2px #343b45;">gpt-4-turbo-preview</div>
<div class="t" id="mv4" style="right:53.44px;top:256.52px;font-size:9.00px;line-height:9.00px;color:#343b45;font-weight:400;transform-origin:0 7.70px;transform:scaleY(1.12);-webkit-text-stroke:0.2px #343b45;">132,411</div>
<div class="t" id="mn5" style="left:835.94px;top:281.68px;font-size:10.80px;line-height:10.80px;color:#343b45;font-weight:400;transform-origin:0 9.23px;transform:scaleY(1.06);-webkit-text-stroke:0.2px #343b45;">gpt-3.5-turbo-1106</div>
<div class="t" id="mv5" style="right:53.04px;top:283.74px;font-size:9.00px;line-height:9.00px;color:#343b45;font-weight:400;transform-origin:0 7.70px;transform:scaleY(1.12);-webkit-text-stroke:0.2px #343b45;">99,308</div>
<div class="t" id="costs" style="left:46.80px;top:356.46px;font-size:13.50px;line-height:13.50px;color:#787878;font-weight:400;-webkit-text-stroke:0.2px #787878;">Costs</div>
<div class="t" id="costv" style="left:46.59px;top:381.18px;font-size:17.70px;line-height:17.70px;color:#0a0a0a;font-weight:400;-webkit-text-stroke:0.7px #0a0a0a;">$93,128.22</div>
<div class="t" id="costl" style="left:217.16px;top:356.08px;font-size:11.60px;line-height:11.60px;color:#7b7b7b;font-weight:400;transform-origin:0 9.92px;transform:scaleY(1.05);-webkit-text-stroke:0.2px #7b7b7b;">costs</div>
<div class="t" id="feb2" style="left:46.52px;top:549.52px;font-size:8.70px;line-height:8.70px;color:#8c8c8c;font-weight:400;transform-origin:0 7.44px;transform:scaleY(1.05);-webkit-text-stroke:0.2px #8c8c8c;">22 Feb</div>
<div class="t" id="may2" style="right:836.30px;top:549.52px;font-size:8.70px;line-height:8.70px;color:#8c8c8c;font-weight:400;transform-origin:0 7.44px;transform:scaleY(1.05);-webkit-text-stroke:0.2px #8c8c8c;">23 May</div>
<div class="t" id="topc" style="left:308.07px;top:356.32px;font-size:13.40px;line-height:13.40px;color:#787878;font-weight:400;-webkit-text-stroke:0.2px #787878;">Top Countries</div>
<div class="t" id="cname" style="left:307.24px;top:386.31px;font-size:9.20px;line-height:9.20px;color:#707070;font-weight:400;transform-origin:0 7.87px;transform:scaleY(1.05);-webkit-text-stroke:0.2px #707070;">Country</div>
<div class="t" id="creq" style="right:575.96px;top:386.31px;font-size:9.20px;line-height:9.20px;color:#707070;font-weight:400;transform-origin:0 7.87px;transform:scaleY(1.05);-webkit-text-stroke:0.2px #707070;">Requests</div>
<div class="t" id="cn0" style="left:327.72px;top:405.27px;font-size:9.95px;line-height:9.95px;color:#343b45;font-weight:400;transform-origin:0 8.51px;transform:scaleY(1.06);-webkit-text-stroke:0.2px #343b45;">United States (US)</div>
<div class="t" id="cv0" style="right:576.44px;top:405.73px;font-size:10.80px;line-height:10.80px;color:#343b45;font-weight:400;transform-origin:0 9.23px;transform:scaleY(1.04);-webkit-text-stroke:0.2px #343b45;">4389</div>
<div class="t" id="cn1" style="left:326.72px;top:431.27px;font-size:9.95px;line-height:9.95px;color:#343b45;font-weight:400;transform-origin:0 8.51px;transform:scaleY(1.06);-webkit-text-stroke:0.2px #343b45;">Indonesia (ID)</div>
<div class="t" id="cv1" style="right:576.44px;top:431.73px;font-size:10.80px;line-height:10.80px;color:#343b45;font-weight:400;transform-origin:0 9.23px;transform:scaleY(1.04);-webkit-text-stroke:0.2px #343b45;">2948</div>
<div class="t" id="cn2" style="left:326.72px;top:457.27px;font-size:9.95px;line-height:9.95px;color:#343b45;font-weight:400;transform-origin:0 8.51px;transform:scaleY(1.06);-webkit-text-stroke:0.2px #343b45;">India (IN)</div>
<div class="t" id="cv2" style="right:576.44px;top:457.73px;font-size:10.80px;line-height:10.80px;color:#343b45;font-weight:400;transform-origin:0 9.23px;transform:scaleY(1.04);-webkit-text-stroke:0.2px #343b45;">2317</div>
<div class="t" id="cn3" style="left:326.72px;top:483.27px;font-size:9.95px;line-height:9.95px;color:#343b45;font-weight:400;transform-origin:0 8.51px;transform:scaleY(1.06);-webkit-text-stroke:0.2px #343b45;">Philippines (PH)</div>
<div class="t" id="cv3" style="right:576.44px;top:483.73px;font-size:10.80px;line-height:10.80px;color:#343b45;font-weight:400;transform-origin:0 9.23px;transform:scaleY(1.04);-webkit-text-stroke:0.2px #343b45;">1919</div>
<div class="t" id="cn4" style="left:327.72px;top:509.27px;font-size:9.95px;line-height:9.95px;color:#343b45;font-weight:400;transform-origin:0 8.51px;transform:scaleY(1.06);-webkit-text-stroke:0.2px #343b45;">United Kingdom (GB)</div>
<div class="t" id="cv4" style="right:576.04px;top:509.73px;font-size:10.80px;line-height:10.80px;color:#343b45;font-weight:400;transform-origin:0 9.23px;transform:scaleY(1.04);-webkit-text-stroke:0.2px #343b45;">1197</div>
<div class="t" id="showall" style="left:396.52px;top:547.70px;font-size:8.80px;line-height:8.80px;color:#2a3038;font-weight:400;transform-origin:0 7.52px;transform:scaleY(1.08);-webkit-text-stroke:0.2px #2a3038;">Show All</div>
<div class="t" id="lat" style="left:567.80px;top:356.11px;font-size:13.60px;line-height:13.60px;color:#787878;font-weight:400;-webkit-text-stroke:0.2px #787878;">Latency</div>
<div class="t" id="latv" style="left:568.58px;top:380.59px;font-size:18.00px;line-height:18.00px;color:#0a0a0a;font-weight:400;-webkit-text-stroke:0.7px #0a0a0a;">6.058 s / req</div>
<div class="t" id="latl" style="left:982.78px;top:356.29px;font-size:11.40px;line-height:11.40px;color:#7b7b7b;font-weight:400;transform-origin:0 9.75px;transform:scaleY(1.05);-webkit-text-stroke:0.2px #7b7b7b;">latency</div>
<div class="t" id="feb3" style="left:569.04px;top:539.60px;font-size:8.70px;line-height:8.70px;color:#8c8c8c;font-weight:400;transform-origin:0 7.44px;transform:scaleY(1.05);-webkit-text-stroke:0.2px #8c8c8c;">22 Feb</div>
<div class="t" id="may3" style="right:64.04px;top:539.60px;font-size:8.70px;line-height:8.70px;color:#8c8c8c;font-weight:400;transform-origin:0 7.44px;transform:scaleY(1.05);-webkit-text-stroke:0.2px #8c8c8c;">23 May</div>
</body></html>
